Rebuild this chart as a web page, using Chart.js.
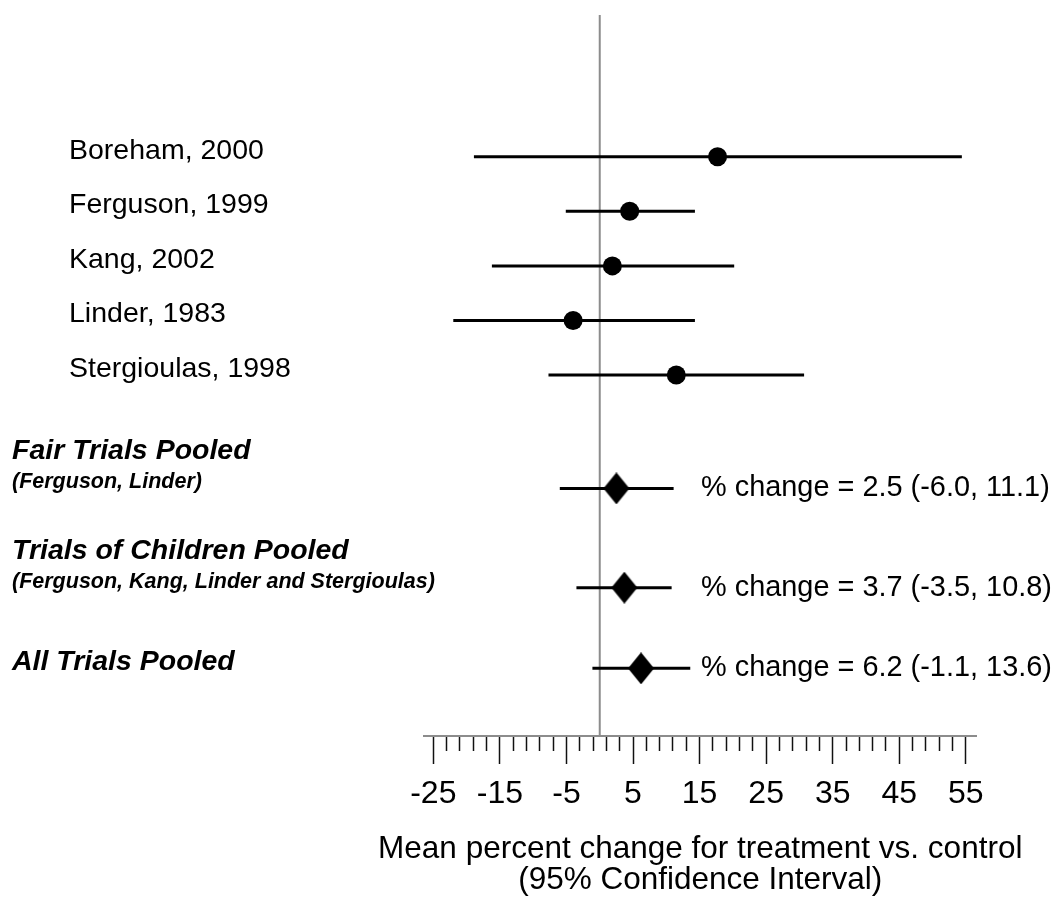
<!DOCTYPE html>
<html>
<head>
<meta charset="utf-8">
<title>Forest plot</title>
<script src="https://cdn.jsdelivr.net/npm/chart.js@4.4.1/dist/chart.umd.min.js"></script>
<style>
  html, body { margin: 0; padding: 0; background: #ffffff; }
  #wrap { width: 1055px; height: 899px; }
</style>
</head>
<body>
<div id="wrap"><canvas id="forest" width="1055" height="899"></canvas></div>
<script>
// ---- Individual trials: point estimate and 95% CI (percent change) ----
const trialNames = ['Boreham, 2000', 'Ferguson, 1999', 'Kang, 2002', 'Linder, 1983', 'Stergioulas, 1998'];
const trialEstimate = [17.7, 4.5, 1.9, -4.0, 11.5];
const trialLower = [-18.9, -5.1, -16.2, -22.0, -7.7];
const trialUpper = [54.4, 14.3, 20.2, 14.3, 30.7];

// ---- Pooled estimates ----
const pooledNames = ['Fair Trials Pooled', 'Trials of Children Pooled', 'All Trials Pooled'];
const pooledSubtitles = ['(Ferguson, Linder)', '(Ferguson, Kang, Linder and Stergioulas)', ''];
const pooledEstimate = [2.5, 3.7, 6.2];
const pooledLower = [-6.0, -3.5, -1.1];
const pooledUpper = [11.1, 10.8, 13.6];

// ---- Axis ----
const majorTicks = [-25, -15, -5, 5, 15, 25, 35, 45, 55];
const minorStep = 2;
const axisTitle = ['Mean percent change for treatment vs. control', '(95% Confidence Interval)'];

// ---- Layout (row positions on the vertical scale, top to bottom) ----
const trialRows = [0, 1, 2, 3, 4];
const pooledRows = [6.08, 7.9, 9.38];
const Y_TOP = -2.6, Y_BOTTOM = 10.62;
const FONT = '"Liberation Sans", Arial, Helvetica, sans-serif';

// all tick positions: majors every 10, minors every 2 in between
const tickValues = [];
for (let v = majorTicks[0]; v <= majorTicks[majorTicks.length - 1]; v += minorStep) tickValues.push(v);

function makeDiamond(w, h) {
  const c = document.createElement('canvas');
  c.width = w; c.height = h;
  const g = c.getContext('2d');
  g.fillStyle = '#000';
  g.beginPath();
  g.moveTo(w / 2, 0); g.lineTo(w, h / 2); g.lineTo(w / 2, h); g.lineTo(0, h / 2);
  g.closePath(); g.fill();
  return c;
}
const diamond = makeDiamond(26, 32);

const fmt = v => v.toFixed(1);

const datasets = [];
// line of no effect
datasets.push({
  type: 'line', order: 3,
  data: [{ x: 0, y: Y_TOP }, { x: 0, y: Y_BOTTOM }],
  borderColor: '#8c8c8c', borderWidth: 2, pointRadius: 0
});
// confidence intervals
trialNames.forEach((n, i) => datasets.push({
  type: 'line', order: 2,
  data: [{ x: trialLower[i], y: trialRows[i] }, { x: trialUpper[i], y: trialRows[i] }],
  borderColor: '#000', borderWidth: 3, pointRadius: 0
}));
pooledNames.forEach((n, i) => datasets.push({
  type: 'line', order: 2,
  data: [{ x: pooledLower[i], y: pooledRows[i] }, { x: pooledUpper[i], y: pooledRows[i] }],
  borderColor: '#000', borderWidth: 3, pointRadius: 0
}));
// point estimates
datasets.push({
  type: 'scatter', order: 1,
  data: trialEstimate.map((v, i) => ({ x: v, y: trialRows[i] })),
  pointStyle: 'circle', pointRadius: 9.5, backgroundColor: '#000', borderWidth: 0
});
datasets.push({
  type: 'scatter', order: 1,
  data: pooledEstimate.map((v, i) => ({ x: v, y: pooledRows[i] })),
  pointStyle: diamond, pointRadius: 13
});

// row labels, pooled result text and the x-axis title
const rowLabels = {
  id: 'rowLabels',
  afterDraw(chart) {
    const { ctx, chartArea } = chart;
    const y = chart.scales.y;
    ctx.save();
    ctx.fillStyle = '#000';
    ctx.textAlign = 'left';
    ctx.textBaseline = 'middle';
    ctx.font = '28.5px ' + FONT;
    trialNames.forEach((n, i) => ctx.fillText(n, 69, y.getPixelForValue(trialRows[i]) - 6));
    pooledNames.forEach((n, i) => {
      const py = y.getPixelForValue(pooledRows[i]);
      const hasSub = pooledSubtitles[i] !== '';
      ctx.font = 'italic bold 28.5px ' + FONT;
      ctx.fillText(n, 12, hasSub ? py - 37 : py - 6);
      if (hasSub) {
        ctx.font = 'italic bold 21.5px ' + FONT;
        ctx.fillText(pooledSubtitles[i], 12, py - 6);
      }
      ctx.font = '28.9px ' + FONT;
      ctx.fillText('% change = ' + fmt(pooledEstimate[i]) + ' (' + fmt(pooledLower[i]) + ', ' + fmt(pooledUpper[i]) + ')', 701, py);
    });
    // axis title, centred under the axis
    ctx.textAlign = 'center';
    ctx.font = '31.5px ' + FONT;
    const cx = (chartArea.left + chartArea.right) / 2;
    axisTitle.forEach((t, i) => ctx.fillText(t, cx, chartArea.bottom + 113 + i * 31));
    ctx.restore();
  }
};

new Chart(document.getElementById('forest'), {
  data: { datasets },
  options: {
    responsive: false,
    animation: false,
    events: [],
    layout: { padding: { left: 424, right: 78.5, top: 15, bottom: 0 } },
    plugins: { legend: { display: false }, tooltip: { enabled: false } },
    scales: {
      x: {
        type: 'linear',
        min: -26.4, max: 56.6,
        afterBuildTicks: s => { s.ticks = tickValues.map(v => ({ value: v })); },
        afterFit: s => { s.height = 163; },
        ticks: {
          autoSkip: false, maxRotation: 0, minRotation: 0, padding: 11,
          color: '#000', font: { family: FONT, size: 32 },
          callback: v => majorTicks.includes(v) ? String(v) : ''
        },
        grid: {
          drawOnChartArea: false, drawTicks: true, tickLength: 28,
          tickColor: '#111', tickWidth: 1.5,
          tickBorderDash: c => (c.tick && majorTicks.includes(c.tick.value)) ? [] : [14, 40]
        },
        border: { display: true, color: '#8c8c8c', width: 2 },
        title: { display: false }
      },
      y: {
        type: 'linear', display: false, reverse: true,
        min: Y_TOP, max: Y_BOTTOM
      }
    }
  },
  plugins: [rowLabels]
});
</script>
</body>
</html>
